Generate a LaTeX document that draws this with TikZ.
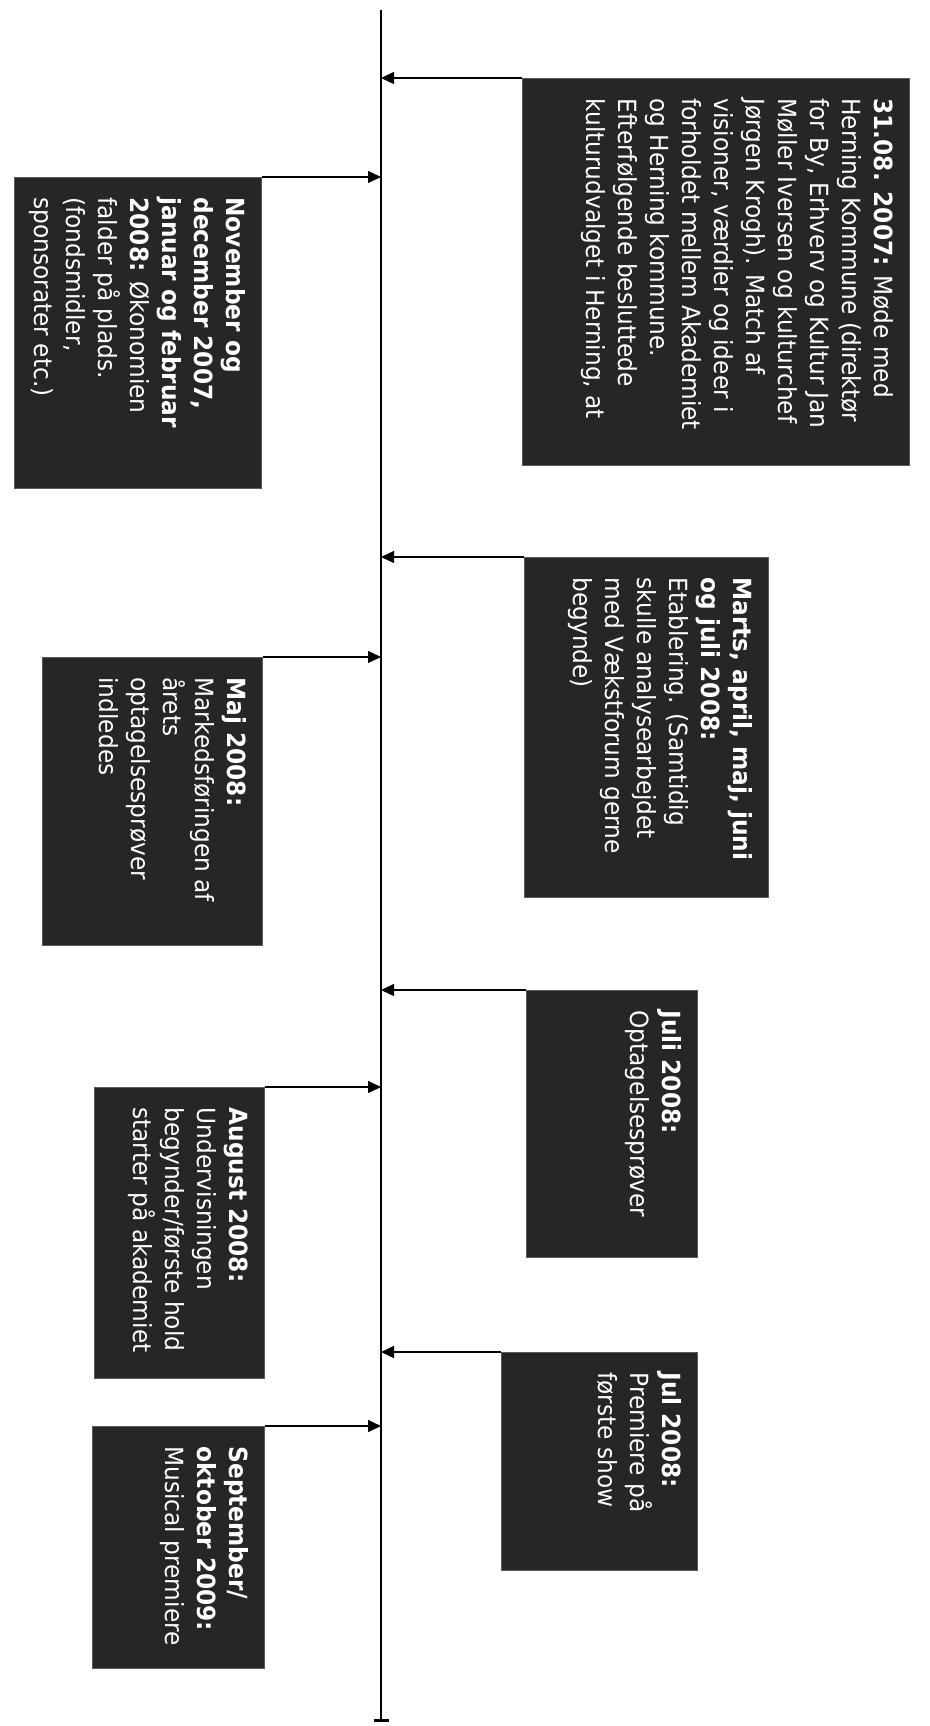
\documentclass[tikz,border=0pt]{standalone}
\usepackage{fontspec}
\setmainfont{DejaVu Sans}[FakeStretch=0.93]
\usepackage{tikz}
\usetikzlibrary{positioning,arrows.meta}

\definecolor{evfill}{HTML}{262626}
\definecolor{evedge}{HTML}{5A5A5A}
\newcommand{\evfont}{\fontsize{25}{32}\selectfont}
\newcommand{\evtext}[3]{\begin{minipage}[t][#2pt][t]{#1pt}\raggedright #3\end{minipage}}

\begin{document}
\begin{tikzpicture}[x=1pt, y=-1pt,
	event/.style={rotate=-90, anchor=north west, draw=evedge, line width=1pt, fill=evfill, text=white, inner xsep=20pt, inner ysep=16pt, font=\evfont},
	tie/.style={line width=1.3pt, -{Triangle[length=13pt,width=12pt]}},
	]
\useasboundingbox (0,0) rectangle (929,1726);

% timeline
\coordinate (top) at (381,10);
\coordinate (bot) at (381,1722);
\draw[line width=1.6pt, -{Bar[width=15pt,line width=3pt]}] (top) -- (bot);

% right side
\node[event] (aug07) at (910,78) {\evtext{347}{355}{\textbf{31.08. 2007:} Møde med\\ Herning Kommune (direktør\\ for By, Erhverv og Kultur Jan\\ Møller Iversen og kulturchef\\ Jørgen Krogh). Match af\\ visioner, værdier og ideer i\\ forholdet mellem Akademiet\\ og Herning kommune.\\ Efterfølgende besluttede\\ kulturudvalget i Herning, at}};
\node[event] (mar08) at (769,557) {\evtext{300}{212}{\textbf{Marts, april, maj, juni\\ og juli 2008:}\\ Etablering. (Samtidig\\ skulle analysearbejdet\\ med Vækstforum gerne\\ begynde)}};
\node[event] (juli08) at (698,990) {\evtext{227}{139}{\textbf{Juli 2008:}\\ Optagelsesprøver}};
\node[event] (jul08) at (698,1352) {\evtext{178}{164}{\textbf{Jul 2008:}\\ Premiere på\\ første show}};

% left side
\node[event] (nov07) at (262,177) {\evtext{271}{215}{\textbf{November og\\ december 2007,\\ januar og februar\\ 2008:} Økonomien\\ falder på plads.\\ (fondsmidler,\\ sponsorater etc.)}};
\node[event] (maj08) at (263,657) {\evtext{248}{188}{\textbf{Maj 2008:}\\ Markedsføringen af\\ årets\\ optagelsesprøver\\ indledes}};
\node[event] (aug08) at (265,1087) {\evtext{251}{138}{\textbf{August 2008:}\\ Undervisningen\\ begynder/første hold\\ starter på akademiet}};
\node[event] (sep09) at (265,1426) {\evtext{202}{140}{\textbf{September/\\ oktober 2009:}\\ Musical premiere}};

% connectors to the timeline
\foreach \ev in {aug07,mar08,juli08,jul08}
	\draw[tie] (\ev.south west) -- (\ev.south west -| top);
\foreach \ev in {nov07,maj08,aug08,sep09}
	\draw[tie] (\ev.north west) -- (\ev.north west -| top);
\end{tikzpicture}
\end{document}
